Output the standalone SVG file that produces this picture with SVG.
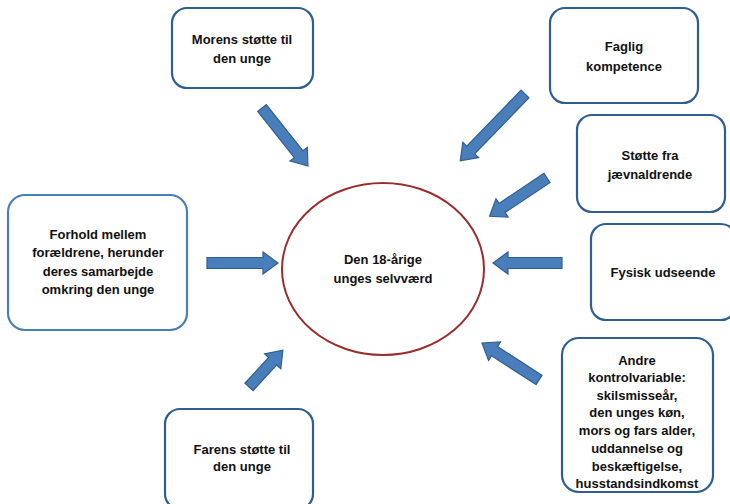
<svg xmlns="http://www.w3.org/2000/svg" width="730" height="504" viewBox="0 0 730 504">
<style>
.box{fill:#fff;stroke:#2f5f91;stroke-width:2.2}
.box2{fill:#fff;stroke:#4a7ebb;stroke-width:2.2}
.t{font-family:"Liberation Sans",Arial,sans-serif;font-weight:bold;font-size:13px;fill:#111;text-anchor:middle}
.arr{fill:#4a7ebb;stroke:#2f5f91;stroke-width:1.2;stroke-linejoin:miter}
</style>
<rect width="730" height="504" fill="#fff"/>
<g id="center">
<ellipse cx="383" cy="269" rx="101" ry="86" fill="#fff" stroke="#9b2c2c" stroke-width="2"/>
<text class="t" x="383" y="264">Den 18-årige</text>
<text class="t" x="383" y="283">unges selvværd</text>
</g>
<g id="morens">
<rect class="box" x="172" y="8" width="141" height="80" rx="15"/>
<text class="t" x="242" y="44">Morens støtte til</text>
<text class="t" x="242" y="63">den unge</text>
</g>
<g id="faglig">
<rect class="box" x="550" y="8" width="148" height="95" rx="15"/>
<text class="t" x="624" y="51">Faglig</text>
<text class="t" x="624" y="71">kompetence</text>
</g>
<g id="stotte">
<rect class="box" x="577" y="115" width="148" height="97" rx="15"/>
<text class="t" x="650" y="160">Støtte fra</text>
<text class="t" x="650" y="179">jævnaldrende</text>
</g>
<g id="fysisk">
<rect class="box" x="591" y="224" width="145" height="96" rx="15"/>
<text class="t" x="663" y="277">Fysisk udseende</text>
</g>
<g id="forhold">
<rect class="box2" x="8" y="195" width="179" height="135" rx="17"/>
<text class="t" x="98" y="239">Forhold mellem</text>
<text class="t" x="98" y="257">forældrene, herunder</text>
<text class="t" x="98" y="276">deres samarbejde</text>
<text class="t" x="98" y="294">omkring den unge</text>
</g>
<g id="farens">
<rect class="box" x="165" y="409" width="148" height="100" rx="15"/>
<text class="t" x="242" y="454">Farens støtte til</text>
<text class="t" x="242" y="471">den unge</text>
</g>
<g id="andre">
<rect class="box" x="562" y="338" width="151" height="154" rx="17"/>
<text class="t" x="637" y="365">Andre</text>
<text class="t" x="637" y="382">kontrolvariable:</text>
<text class="t" x="637" y="400">skilsmisseår,</text>
<text class="t" x="637" y="417">den unges køn,</text>
<text class="t" x="637" y="435">mors og fars alder,</text>
<text class="t" x="637" y="453">uddannelse og</text>
<text class="t" x="637" y="471">beskæftigelse,</text>
<text class="t" x="637" y="488">husstandsindkomst</text>
</g>
<g id="connectors">
<polygon class="arr" transform="translate(262,108) rotate(51.6)" points="0,-5.5 59,-5.5 59,-11 74,0 59,11 59,5.5 0,5.5"/>
<polygon class="arr" transform="translate(525,94) rotate(134.1)" points="0,-5.5 78,-5.5 78,-11 93,0 78,11 78,5.5 0,5.5"/>
<polygon class="arr" transform="translate(547,178) rotate(146.3)" points="0,-5.5 54,-5.5 54,-11 69,0 54,11 54,5.5 0,5.5"/>
<polygon class="arr" transform="translate(562,263) rotate(180)" points="0,-5.5 54,-5.5 54,-11 69,0 54,11 54,5.5 0,5.5"/>
<polygon class="arr" transform="translate(207,263)" points="0,-5.5 56,-5.5 56,-11 71,0 56,11 56,5.5 0,5.5"/>
<polygon class="arr" transform="translate(249,387) rotate(-47.4)" points="0,-5.5 35,-5.5 35,-11 50,0 35,11 35,5.5 0,5.5"/>
<polygon class="arr" transform="translate(539,380) rotate(-147)" points="0,-5.5 53,-5.5 53,-11 68,0 53,11 53,5.5 0,5.5"/>
</g>
</svg>
